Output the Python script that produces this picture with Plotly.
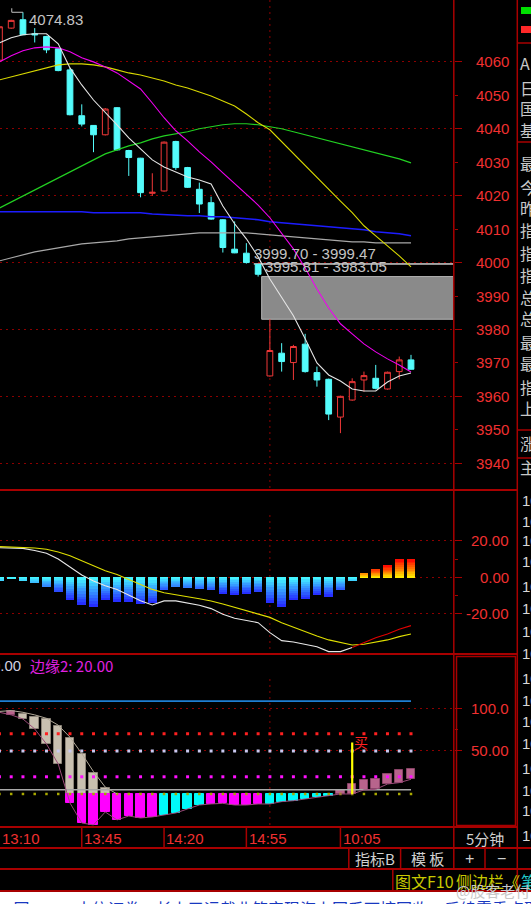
import plotly.graph_objects as go

W, H = 531, 904

# ---------------- data ----------------
bar_idx = list(range(36))
time_labels = ["13:10", "13:45", "14:20", "14:55", "10:05"]
time_label_bars = [0, 7, 14, 21, 29]
day_break_bar = 23

open_ = [4060.5, 4070.1, 4072.6, 4068.4, 4067.6, 4063.9, 4057.6, 4043.9, 4041.0, 4038.2,
         4046.3, 4033.5, 4031.2, 4020.7, 4021.4, 4036.2, 4028.4, 4021.9, 4017.9, 4012.8,
         4004.0, 4002.8, 3999.4, 3966.1, 3972.9, 3970.1, 3975.6, 3967.1, 3965.1, 3953.8,
         3958.9, 3964.9, 3965.4, 3962.2, 3967.4, 3970.9]
high = [4071.0, 4072.6, 4074.83, 4070.1, 4067.8, 4064.1, 4058.2, 4047.3, 4041.1, 4046.2,
        4046.5, 4033.7, 4031.3, 4026.7, 4036.2, 4036.4, 4028.6, 4023.9, 4019.7, 4013.0,
        4012.3, 4005.8, 3999.47, 3983.05, 3975.9, 3975.4, 3978.7, 3968.9, 3965.3, 3960.2,
        3965.4, 3967.4, 3969.4, 3967.4, 3971.9, 3972.4]
low = [4059.5, 4069.9, 4068.0, 4065.8, 4062.6, 4057.2, 4044.0, 4040.7, 4033.0, 4038.0,
       4033.5, 4025.9, 4019.5, 4019.9, 4021.2, 4027.7, 4022.3, 4014.8, 4012.8, 4003.0,
       4002.8, 3999.70, 3995.81, 3965.9, 3967.4, 3964.9, 3967.1, 3962.9, 3952.9, 3949.0,
       3958.7, 3961.4, 3962.1, 3962.0, 3965.1, 3968.0]
close = [4070.5, 4072.4, 4068.1, 4068.1, 4063.6, 4057.4, 4044.2, 4041.4, 4038.2, 4045.9,
         4033.7, 4031.4, 4020.9, 4021.0, 4036.0, 4028.4, 4022.5, 4017.5, 4013.0, 4004.5,
         4002.9, 4000.0, 3996.5, 3973.7, 3970.4, 3974.9, 3967.4, 3964.9, 3954.7, 3960.0,
         3964.4, 3966.2, 3962.4, 3967.2, 3970.9, 3968.1]

ma_white = [4065.7, 4067.2, 4068.1, 4068.4, 4068.4, 4065.4, 4058.2, 4053.1, 4048.6, 4045.0,
            4041.2, 4037.3, 4034.0, 4030.7, 4028.6, 4027.1, 4025.6, 4024.7, 4023.5, 4016.9,
            4011.6, 4007.1, 4001.7, 3995.1, 3989.4, 3984.1, 3977.2, 3970.0, 3966.4, 3964.6,
            3962.2, 3961.6, 3961.6, 3964.3, 3966.1, 3967.0]
ma_magenta = [4060.0, 4061.8, 4063.3, 4064.2, 4064.5, 4064.2, 4063.0, 4061.2, 4060.0, 4058.5,
              4056.7, 4054.3, 4051.9, 4047.7, 4043.3, 4039.4, 4036.4, 4033.1, 4030.1, 4026.8,
              4023.5, 4020.2, 4017.2, 4013.4, 4008.9, 4004.1, 3998.4, 3992.1, 3986.4, 3981.7,
              3978.7, 3975.7, 3973.3, 3971.2, 3969.4, 3967.3]
ma_yellow = [4054.6, 4055.5, 4056.4, 4057.3, 4058.2, 4059.1, 4059.4, 4059.4, 4059.1, 4058.5,
             4057.6, 4056.7, 4056.1, 4055.2, 4054.3, 4053.1, 4052.2, 4051.0, 4049.8, 4048.3,
             4046.8, 4044.4, 4041.8, 4039.7, 4036.1, 4032.5, 4028.9, 4025.3, 4021.7, 4018.4,
             4014.9, 4011.0, 4008.0, 4005.0, 4002.0, 3998.7]
ma_green = [4016.3, 4018.1, 4019.9, 4021.7, 4023.5, 4025.3, 4027.1, 4028.9, 4030.7, 4032.5,
            4033.7, 4034.9, 4035.8, 4037.0, 4037.9, 4038.5, 4039.1, 4040.0, 4040.6, 4041.2,
            4041.5, 4041.5, 4041.2, 4040.6, 4040.0, 4039.1, 4038.2, 4037.3, 4036.4, 4035.5,
            4034.6, 4033.7, 4032.8, 4031.9, 4031.0, 4029.8]
ma_blue = [4015.2, 4015.2, 4015.2, 4015.2, 4015.2, 4015.2, 4015.2, 4015.2, 4014.9, 4014.9,
           4014.9, 4014.9, 4014.9, 4014.5, 4014.3, 4014.3, 4014.0, 4014.0, 4013.7, 4013.7,
           4013.4, 4013.1, 4012.8, 4012.2, 4011.9, 4011.6, 4011.3, 4011.0, 4010.7, 4010.4,
           4010.1, 4009.8, 4009.2, 4008.9, 4008.6, 4008.0]
ma_grey = [4000.5, 4001.4, 4002.3, 4003.2, 4003.8, 4004.4, 4005.0, 4005.6, 4005.9, 4006.2,
           4006.5, 4007.1, 4007.4, 4007.7, 4008.0, 4008.3, 4008.6, 4008.9, 4008.9, 4008.9,
           4008.9, 4008.9, 4008.6, 4008.3, 4008.0, 4007.7, 4007.4, 4007.1, 4006.8, 4006.5,
           4006.2, 4006.2, 4005.9, 4005.9, 4005.9, 4005.9]

price_grid = [4060, 4040, 4020, 4000, 3980, 3960, 3940]
price_minor = [4050, 4030, 4010, 3990, 3970, 3950]
price_labels = [4060, 4050, 4040, 4030, 4020, 4010, 4000, 3990, 3980, 3970, 3960, 3950, 3940]

gap1_lo, gap1_hi, gap1_bar = 3999.47, 3999.70, 21.65
gap2_lo, gap2_hi, gap2_bar = 3983.05, 3995.81, 22.3
high_value, high_bar = 4074.83, 2

macd_hist = [-2.0, -0.7, -1.5, -2.9, -5.1, -7.8, -12.4, -15.1, -16.0, -12.4,
             -13.3, -13.3, -14.6, -14.2, -6.9, -5.1, -5.6, -6.4, -6.9, -9.1,
             -9.7, -9.1, -8.2, -13.8, -16.0, -12.4, -11.8, -9.7, -10.6, -6.9,
             -2.0, 2.2, 4.0, 6.4, 9.8, 9.8]
macd_dif = [16.2, 16.2, 15.8, 14.6, 13.1, 10.0, 5.8, 1.3, -2.0, -4.6,
            -6.6, -9.7, -12.8, -15.1, -12.9, -12.9, -14.0, -15.3, -17.1, -20.2,
            -22.4, -23.7, -24.8, -30.2, -34.6, -35.3, -36.6, -37.9, -40.6, -40.6,
            -38.3, -35.7, -33.0, -31.0, -28.4, -26.4]
macd_dea = [16.8, 16.6, 16.4, 16.0, 15.3, 13.8, 11.8, 9.1, 6.4, 3.6,
            1.5, -1.1, -3.8, -6.6, -8.4, -9.7, -10.6, -11.7, -12.9, -14.6,
            -16.4, -18.2, -20.0, -21.9, -24.8, -27.3, -29.9, -32.1, -34.2, -35.7,
            -37.0, -36.6, -35.5, -34.2, -32.4, -31.0]
dif_red_from = 30
macd_grid = [20, 0, -20]
macd_minor = [10, -10]
macd_labels = ["20.00", "0.00", "-20.00"]

ind_top = [None, 96.5, 93.0, 89.5, 87.2, 79.1, 65.1, 46.5, 24.4, 7.0,
           0, 0, 0, 0, 0, 0, 0, 0, 0, 0,
           0, 0, 0, 0, 0, 0, 0, 0, 0, 4.7,
           11.2, 16.3, 17.1, 23.3, 27.9, 28.7]
ind_bot = [None, 92.0, 87.2, 75.6, 58.1, 34.9, -10.5, -33.7, -36.0, -20.9,
           -30.2, -25.6, -27.9, -26.7, -24.4, -22.1, -17.4, -12.8, -11.6, -10.9,
           -12.8, -12.8, -11.6, -11.6, -8.9, -7.8, -5.8, -3.9, -2.3, 0,
           0, 4.7, 5.4, 11.6, 13.2, 17.1]
ind_kind = [None, "up", "down", "down", "down", "down", "down", "down", "down", "down",
            "mag", "mag", "mag", "mag", "cyan", "cyan", "cyan", "cyan", "mag", "mag",
            "mag", "mag", "mag", "cyan", "cyan", "cyan", "cyan", "cyan", "cyan", "up",
            "up", "up", "up", "up", "up", "up"]
ind_lineA = [96, 97, 95, 92, 88, 80, 66, 47, 26, 8, 0]
ind_lineB = [95, 92, 87.2, 75.6, 58.1, 34.9, -10.5, -33.7, -36.0, -20.9,
             -30.2, -25.6, -27.9, -26.7, -24.4, -22.1, -17.4, -12.8, -11.6, -10.9,
             -12.8, -12.8, -11.6, -11.6, -8.9, -7.8, -5.8, -3.9, -2.3, 0,
             0, 4.7, 5.4, 11.6, 13.2, 17.1]
dot_levels = [70, 50, 20, 0]
dot_colors = ["#ff2020", "#c8c8f0", "#ff10ff", "#a8a800"]
blue_level = 108
grey_level = 5
buy_bar, buy_top = 30, 60
ind_grid = [100, 50]
ind_minor = [75]
ind_labels = ["100.0", "50.00"]

side_chars = ["A", "日", "国", "基", "最", "今", "昨", "指", "指", "指", "总", "总",
              "最", "最", "指", "上", "涨", "主"]
side_char_y = [63, 88, 108, 130, 163, 187, 208, 230, 253, 275, 297, 318, 342, 363, 387, 408, 443, 467]
side_num_y = [500, 521.7, 540.7, 561.7, 586.7, 608.3, 631.7, 653.3, 678.3, 700, 721.7, 743.3,
              768.3, 790, 810, 835]

# ---------------- styling ----------------
X_START, X_END = 0.048, 38.64
RED_UP = "#f03838"
CYAN = "#54fcfc"
BORDER = "#a80000"
GRID = "#8c0000"
LABEL = "#f03030"
TXT = "#d0d0d0"
FONT = "Liberation Sans, Arial, Noto Sans CJK SC, sans-serif"
CJK = "Noto Sans CJK SC, Liberation Sans, sans-serif"


def px(x):
    return x / W


def py(y):
    return 1 - y / H


def lerp(c0, c1, t):
    t = max(0.0, min(1.0, t))
    return "rgb(%d,%d,%d)" % tuple(round(a + (b - a) * t) for a, b in zip(c0, c1))


fig = go.Figure()

# ---- main panel ----
fig.add_trace(go.Candlestick(
    x=bar_idx, open=open_, high=high, low=low, close=close,
    increasing=dict(line=dict(color=RED_UP, width=1), fillcolor="#000000"),
    decreasing=dict(line=dict(color=CYAN, width=1), fillcolor=CYAN),
    whiskerwidth=0, xaxis="x", yaxis="y", hoverinfo="skip", showlegend=False))

for vals, col, wd in [(ma_grey, "#a8a8a8", 1.2), (ma_blue, "#1c1cff", 1.6),
                      (ma_green, "#22d022", 1.2), (ma_yellow, "#d8d800", 1.1),
                      (ma_magenta, "#f000f0", 1.1), (ma_white, "#e4e4e4", 1.1)]:
    fig.add_trace(go.Scatter(x=bar_idx, y=vals, mode="lines", line=dict(color=col, width=wd),
                             xaxis="x", yaxis="y", hoverinfo="skip", showlegend=False))

# high marker
fig.add_trace(go.Scatter(x=[high_bar - 0.95, high_bar - 0.95, high_bar], y=[high_value + 1.2, high_value, high_value],
                         mode="lines", line=dict(color="#c0c0c0", width=1),
                         xaxis="x", yaxis="y", hoverinfo="skip", showlegend=False))

# ---- MACD panel ----
NSEG = 10
for k in range(NSEG):
    bases, heights, cols = [], [], []
    for v in macd_hist:
        bases.append(v * k / NSEG)
        heights.append(v / NSEG)
        f = (k + 0.5) / NSEG
        if v < 0:
            cols.append(lerp((70, 255, 255), (36, 36, 255), f * min(1, abs(v) / 9)))
        else:
            cols.append(lerp((255, 245, 0), (255, 0, 0), f * min(1, abs(v) / 5)))
    fig.add_trace(go.Bar(x=bar_idx, y=heights, base=bases, width=0.74,
                         marker=dict(color=cols, line=dict(width=0)),
                         xaxis="x", yaxis="y2", hoverinfo="skip", showlegend=False))

fig.add_trace(go.Scatter(x=bar_idx[:dif_red_from + 1], y=macd_dif[:dif_red_from + 1], mode="lines",
                         line=dict(color="#e8e8e8", width=1.1), xaxis="x", yaxis="y2",
                         hoverinfo="skip", showlegend=False))
fig.add_trace(go.Scatter(x=bar_idx, y=macd_dea, mode="lines", line=dict(color="#e0e000", width=1.1),
                         xaxis="x", yaxis="y2", hoverinfo="skip", showlegend=False))
fig.add_trace(go.Scatter(x=bar_idx[dif_red_from:], y=macd_dif[dif_red_from:], mode="lines",
                         line=dict(color="#e00000", width=1.1), xaxis="x", yaxis="y2",
                         hoverinfo="skip", showlegend=False))

# ---- third panel ----
KIND_COL = {"up": ("#b8648c", "#8a4468"), "mag": ("#ff00ff", "#ff00ff"),
            "cyan": ("#00fafa", "#00fafa"), "beige": ("#c8c0b0", "#8c8478")}
bx, bb, bh, bc, bl = [], [], [], [], []
for i, (t, b, kd) in enumerate(zip(ind_top, ind_bot, ind_kind)):
    if kd is None:
        continue
    segs = []
    if kd == "down":
        if t > 0:
            segs.append((max(b, 0), t, "beige"))
        if b < 0:
            segs.append((b, min(t, 0), "mag"))
    else:
        segs.append((b, t, kd))
    for lo_, hi_, c in segs:
        bx.append(i)
        bb.append(lo_)
        bh.append(hi_ - lo_)
        bc.append(KIND_COL[c][0])
        bl.append(KIND_COL[c][1])

for lvl, col in zip(dot_levels, dot_colors):
    fig.add_trace(go.Scatter(x=bar_idx, y=[lvl] * len(bar_idx), mode="markers",
                             marker=dict(symbol="square", size=3 if lvl else 2.5, color=col, line=dict(width=0)),
                             xaxis="x", yaxis="y3", hoverinfo="skip", showlegend=False))

fig.add_trace(go.Scatter(x=[bar_idx[0], bar_idx[-1]], y=[blue_level, blue_level], mode="lines",
                         line=dict(color="#1e7ed2", width=1.6), xaxis="x", yaxis="y3",
                         hoverinfo="skip", showlegend=False))
fig.add_trace(go.Scatter(x=[bar_idx[0], bar_idx[-1]], y=[grey_level, grey_level], mode="lines",
                         line=dict(color="#a8a8a8", width=1.6), xaxis="x", yaxis="y3",
                         hoverinfo="skip", showlegend=False))

fig.add_trace(go.Bar(x=bx, y=bh, base=bb, width=0.72,
                     marker=dict(color=bc, line=dict(color=bl, width=1)),
                     xaxis="x", yaxis="y3", hoverinfo="skip", showlegend=False))

fig.add_trace(go.Scatter(x=bar_idx[:len(ind_lineA)], y=ind_lineA, mode="lines",
                         line=dict(color="#b0a898", width=1), xaxis="x", yaxis="y3",
                         hoverinfo="skip", showlegend=False))
fig.add_trace(go.Scatter(x=bar_idx, y=ind_lineB, mode="lines",
                         line=dict(color="#9a4a78", width=1), xaxis="x", yaxis="y3",
                         hoverinfo="skip", showlegend=False))

fig.add_trace(go.Scatter(x=[buy_bar, buy_bar], y=[0, buy_top], mode="lines",
                         line=dict(color="#ffff00", width=2.2), xaxis="x", yaxis="y3",
                         hoverinfo="skip", showlegend=False))

# ---------------- axes ----------------
def yax(domain, rng, grid, minor):
    return dict(domain=domain, range=rng, side="right", anchor="x", showline=False,
                ticks="outside", ticklen=7, tickwidth=1, tickcolor=BORDER,
                tickvals=grid, showticklabels=False,
                showgrid=True, gridcolor=GRID, gridwidth=1, griddash="2px,4px",
                zeroline=False, fixedrange=True,
                minor=dict(tickvals=minor, ticks="outside", ticklen=3, tickwidth=1,
                           tickcolor=BORDER, showgrid=False))


fig.update_layout(
    width=W, height=H, margin=dict(l=0, r=0, t=0, b=0, pad=0),
    paper_bgcolor="#000000", plot_bgcolor="rgba(0,0,0,0)",
    showlegend=False, barmode="overlay", bargap=0, hovermode=False,
    xaxis=dict(domain=[0, px(453.8)], range=[X_START, X_END], showgrid=False, zeroline=False,
               showticklabels=False, ticks="", showline=False, fixedrange=True,
               rangeslider=dict(visible=False)),
    yaxis=yax([py(490), 1], [3932.0, 4078.5], price_grid, price_minor),
    yaxis2=yax([py(654), py(490)], [-41.9, 47.7], macd_grid, macd_minor),
    yaxis3=yax([py(827), py(654)], [-38.4, 162.8], ind_grid, ind_minor),
)

# ---------------- shapes ----------------
shapes = []


def seg(x0, y0, x1, y1, color=BORDER, width=1.5, dash=None, layer="above", xref="paper", yref="paper"):
    d = dict(type="line", x0=x0, y0=y0, x1=x1, y1=y1, xref=xref, yref=yref, layer=layer,
             line=dict(color=color, width=width))
    if dash:
        d["line"]["dash"] = dash
    shapes.append(d)


# gaps
shapes.append(dict(type="rect", xref="x", yref="y", x0=gap2_bar, x1=X_END, y0=gap2_lo, y1=gap2_hi,
                   fillcolor="#8a8a8a", line=dict(color="#b4b4b4", width=1), layer="below"))
shapes.append(dict(type="rect", xref="x", yref="y", x0=gap1_bar, x1=X_END, y0=gap1_lo, y1=gap1_hi,
                   fillcolor="#a8a8a8", line=dict(color="#a8a8a8", width=1), layer="below"))

# day separator
for y0, y1 in [(0, 490), (515, 654), (679, 827)]:
    seg(day_break_bar, py(y0), day_break_bar, py(y1), color=GRID, width=1, dash="2px,4px",
        layer="below", xref="x")

# panel borders
for yy in [490, 654, 827]:
    seg(px(0), py(yy), px(517.3), py(yy), width=2)
for yy in [848, 869, 891]:
    seg(px(0), py(yy), px(531), py(yy), width=2)
seg(px(453.8), py(0), px(453.8), py(869), width=1.5)
seg(px(517.3), py(0), px(517.3), py(891), width=1.5)
shapes.append(dict(type="rect", xref="paper", yref="paper", x0=px(456.5), x1=px(515.5),
                   y0=py(825.5), y1=py(656.5), line=dict(color=BORDER, width=1.5)))
for xx in [348.8, 400.6, 485.0]:
    seg(px(xx), py(848), px(xx), py(869), width=1.5)
seg(px(392.8), py(869), px(392.8), py(891), width=1.5)
for b in time_label_bars[1:]:
    seg(b, py(827), b, py(848), width=1.5, xref="x")
for yy in [43, 142, 430, 458]:
    seg(px(517.3), py(yy), px(531), py(yy), width=1.5)

# sidebar color chips
shapes.append(dict(type="rect", xref="paper", yref="paper", x0=px(521), x1=px(531), y0=py(14), y1=py(7),
                   fillcolor="#00e000", line=dict(width=0)))
shapes.append(dict(type="rect", xref="paper", yref="paper", x0=px(521), x1=px(531), y0=py(33), y1=py(26),
                   fillcolor="#ff2828", line=dict(width=0)))
# bottom white strip
shapes.append(dict(type="rect", xref="paper", yref="paper", x0=0, x1=1, y0=0, y1=py(892),
                   fillcolor="#ffffff", line=dict(width=0)))

fig.update_layout(shapes=shapes)

# ---------------- annotations ----------------
ann = []


def txt(x, y, s, color=TXT, size=15, xanchor="left", yanchor="middle", xref="paper", yref="paper",
        family=FONT, xshift=0, yshift=0):
    ann.append(dict(x=x, y=y, text=s, xref=xref, yref=yref, xanchor=xanchor, yanchor=yanchor,
                    showarrow=False, xshift=xshift, yshift=yshift,
                    font=dict(color=color, size=size, family=family), borderpad=0))


for v in price_labels:
    txt(px(510), v, str(v), color=LABEL, xanchor="right", yref="y")
for v, s in zip(macd_grid, macd_labels):
    txt(px(510), v, s, color=LABEL, xanchor="right", yref="y2")
for v, s in zip(ind_grid, ind_labels):
    txt(px(510), v, s, color=LABEL, xanchor="right", yref="y3")

txt(high_bar, high_value, "%.2f" % high_value, color="#c4c4c4", xref="x", yref="y", xshift=5, yshift=-7)
txt(gap1_bar - 0.1, gap1_hi, "%.2f - %.2f" % (gap1_hi, gap1_lo), color="#c4c4c4", xref="x", yref="y", yshift=10)
txt(gap2_bar + 0.2, gap2_hi, "%.2f - %.2f" % (gap2_hi, gap2_lo), color="#c4c4c4", xref="x", yref="y", yshift=10)

txt(px(21.7), py(665), "0.00", color="#d0d0e0", xanchor="right")
txt(px(29), py(665), "边缘2: 20.00", color="#e020e0", family=CJK)
txt(buy_bar, buy_top, "买", color="#ff2020", size=14, xref="x", yref="y3", family=CJK, xshift=1, yshift=0)

for b, s in zip(time_label_bars, time_labels):
    txt(b + 0.1, py(838), s, color=LABEL, xref="x", xshift=0)
txt(px(485), py(838), "5分钟", xanchor="center", family=CJK)
txt(px(375), py(858.5), "指标B", xanchor="center", family=CJK)
txt(px(427), py(858.5), "模 板", xanchor="center", family=CJK)
txt(px(469), py(858.5), "+", xanchor="center", size=16)
txt(px(501), py(858.5), "−", xanchor="center", size=16)
txt(px(394), py(880.5), "图文F10", color="#c8c800", family=CJK, size=16)
txt(px(455), py(880.5), "侧边栏《", color="#c8c800", family=CJK, size=16)
txt(px(520), py(880.5), "笔", color="#20c8c8", family=CJK, size=16)

for ch, yy in zip(side_chars, side_char_y):
    txt(px(519), py(yy), ch, color="#c8c8c8", family=CJK, size=16)
for yy in side_num_y:
    txt(px(520.5), py(yy), "10.00", color="#d8d8d8", size=15)

txt(px(0), py(895), "¬ 同", color="#1838c0", family=CJK, size=16, yanchor="top")
txt(px(75), py(895), "中信证券：长上了运载业筑实现海上网系可控回收，后续需重点聚焦民", color="#1838c0",
    family=CJK, size=16, yanchor="top")
txt(px(455), py(890), "@股客老付", color="#c8c8c8", family=CJK, size=15)

fig.update_layout(annotations=ann)

fig.write_html("out.html", include_plotlyjs=True, config={"displayModeBar": False},
               post_script="document.body.style.margin='0';document.body.style.overflow='hidden';")
